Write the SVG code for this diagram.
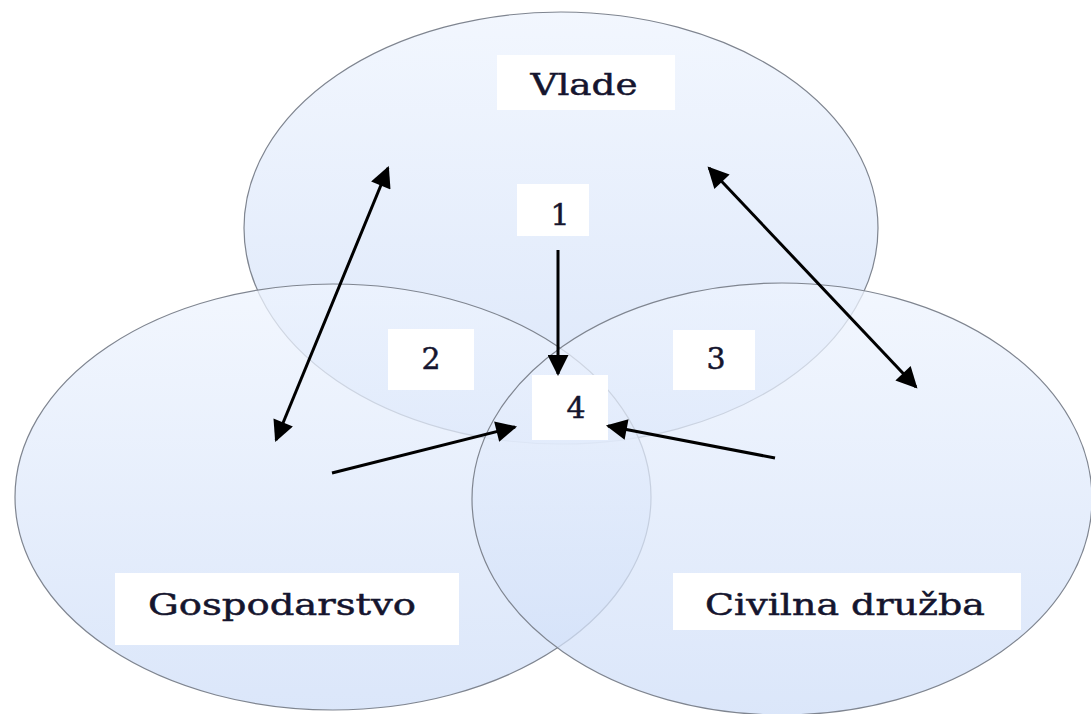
<svg xmlns="http://www.w3.org/2000/svg" width="1091" height="714" viewBox="0 0 1091 714">
<defs>
<linearGradient id="g" x1="0" y1="0" x2="0" y2="1">
<stop offset="0" stop-color="#eef4fe"/>
<stop offset="1" stop-color="#cfdef8"/>
</linearGradient>
<marker id="ah" viewBox="0 0 10 10" refX="9" refY="5" markerWidth="8.5" markerHeight="7" orient="auto-start-reverse" markerUnits="strokeWidth">
<path d="M0,0 L10,5 L0,10 z" fill="#000"/>
</marker>
<style>
.c{fill:url(#g);fill-opacity:0.75;stroke:#7f8590;stroke-width:1.2}
.b{fill:#fff}
.t{font-family:"DejaVu Serif","Liberation Serif",serif;font-size:30px;fill:#15152e;stroke:#15152e;stroke-width:0.5;text-anchor:middle}
.n{font-size:30px}
.a{stroke:#000;stroke-width:3;fill:none}
</style>
</defs>
<rect width="1091" height="714" fill="#fff"/>
<g id="circles">
<ellipse id="vlade-circle" class="c" cx="561" cy="228" rx="317" ry="216"/>
<ellipse id="gosp-circle" class="c" cx="333" cy="497" rx="318" ry="213"/>
<ellipse id="civ-circle" class="c" cx="782" cy="499" rx="310" ry="216"/>
</g>
<g id="node-vlade"><rect class="b" x="497" y="55" width="178" height="55"/><text class="t" x="584" y="95" textLength="107" lengthAdjust="spacingAndGlyphs">Vlade</text></g>
<g id="node-1"><rect class="b" x="517" y="184" width="72" height="52"/><text class="t n" x="560" y="225">1</text></g>
<g id="node-2"><rect class="b" x="388" y="329" width="86" height="61"/><text class="t n" x="431" y="369">2</text></g>
<g id="node-3"><rect class="b" x="673" y="330" width="82" height="60"/><text class="t n" x="716" y="369">3</text></g>
<g id="node-4"><rect class="b" x="532" y="375" width="76" height="65"/><text class="t n" x="576" y="418">4</text></g>
<g id="node-gosp"><rect class="b" x="115" y="573" width="344" height="72"/><text class="t" x="282" y="615" textLength="268" lengthAdjust="spacingAndGlyphs">Gospodarstvo</text></g>
<g id="node-civ"><rect class="b" x="673" y="573" width="348" height="57"/><text class="t" x="845" y="615" textLength="280" lengthAdjust="spacingAndGlyphs">Civilna družba</text></g>
<g id="connectors">
<line class="a" x1="558" y1="250" x2="558" y2="374" marker-end="url(#ah)"/>
<line class="a" x1="388" y1="168" x2="276" y2="440" marker-start="url(#ah)" marker-end="url(#ah)"/>
<line class="a" x1="709" y1="168" x2="916" y2="387" marker-start="url(#ah)" marker-end="url(#ah)"/>
<line class="a" x1="332" y1="473" x2="515" y2="427" marker-end="url(#ah)"/>
<line class="a" x1="775" y1="458" x2="608" y2="426" marker-end="url(#ah)"/>
</g>
</svg>
